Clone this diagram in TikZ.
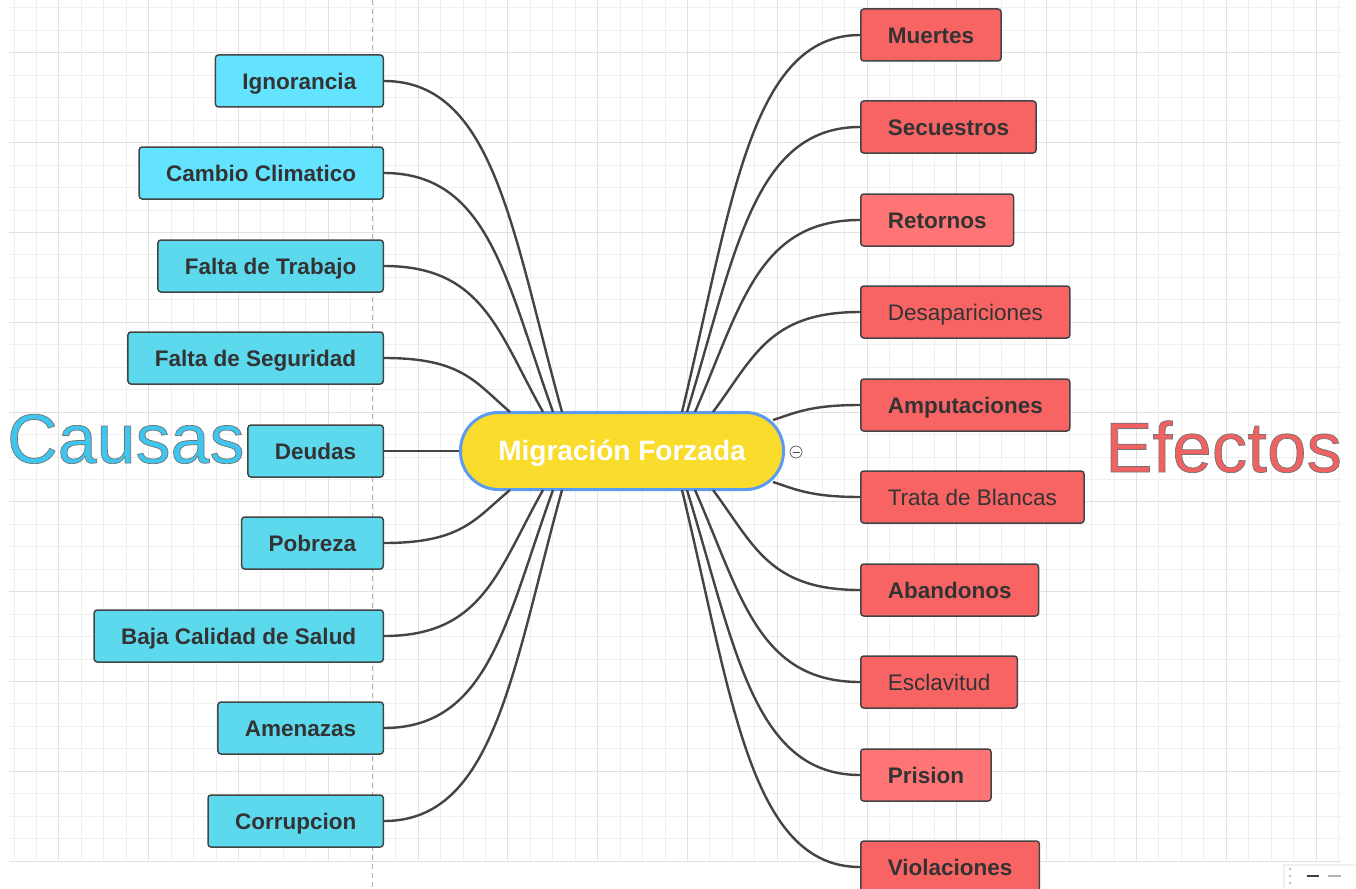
\documentclass[tikz,border=0pt]{standalone}
\usepackage{fontspec}
\setmainfont{Liberation Sans}
\usetikzlibrary{positioning}

\definecolor{gridminor}{HTML}{EFEFEF}
\definecolor{gridmajor}{HTML}{E1E1E1}
\definecolor{causebright}{HTML}{64E3FF}
\definecolor{causefill}{HTML}{5DD9EE}
\definecolor{effectfill}{HTML}{F86464}
\definecolor{effectlight}{HTML}{FF7575}
\definecolor{centerfill}{HTML}{F9DC2C}
\definecolor{centerline}{HTML}{5B9CF2}
\definecolor{linkgray}{HTML}{444444}
\definecolor{textgray}{HTML}{333333}
\definecolor{causetitle}{HTML}{3EC6EE}
\definecolor{effecttitle}{HTML}{F06262}

% outlined title text
\newcommand{\outlined}[1]{\special{pdf:literal 2 Tr 0.7 w 0.45 0.45 0.45 RG}#1\special{pdf:literal 0 Tr}}

\tikzset{
  topic/.style={draw=linkgray, line width=1.5pt, rounded corners=3pt,
    minimum height=52pt, inner xsep=27pt, text height=21pt, text depth=4.4pt,
    font=\fontsize{22.5}{27}\selectfont\bfseries, text=textgray},
  plain/.style={font=\fontsize{22.5}{27}\selectfont},
  cause/.style={topic, fill=causefill, anchor=east},
  effect/.style={topic, fill=effectfill, anchor=west},
  link/.style={draw=linkgray, line width=2.4pt},
}

\begin{document}
\begin{tikzpicture}[x=1pt, y=-1pt]
  \useasboundingbox (0,0) rectangle (1356,888);
  \fill[white] (0,0) rectangle (1356,888);

  % grid
  \foreach \k in {0,...,59}
    \draw[gridminor, line width=1pt] ({14+22.45*\k},0) -- ({14+22.45*\k},860);
  \foreach \k in {0,...,38}
    \draw[gridminor, line width=1pt] (9,{8+22.45*\k}) -- (1341,{8+22.45*\k});
  \foreach \k in {2,6,...,58}
    \draw[gridmajor, line width=1pt] ({14+22.45*\k},0) -- ({14+22.45*\k},860);
  \foreach \k in {2,6,...,38}
    \draw[gridmajor, line width=1pt] (9,{8+22.45*\k}) -- (1341,{8+22.45*\k});
  \draw[black!30, line width=0.8pt, dash pattern=on 5pt off 4pt] (372.5,0) -- (372.5,888);

  % titles
  \node[anchor=base west, inner sep=0, font=\fontsize{70}{72}\selectfont, text=causetitle] (causas) at (7,463) {\outlined{Causas}};
  \node[anchor=base west, inner sep=0, font=\fontsize{71}{73}\selectfont, text=effecttitle] (efectos) at (1105,472) {\outlined{Efectos}};

  % center
  \node[draw=centerline, line width=3pt, fill=centerfill, rounded corners=38pt,
    minimum width=323pt, minimum height=77pt, text height=25pt, text depth=7pt,
    font=\fontsize{28}{30}\selectfont\bfseries, text=white] (mf) at (622,451) {Migración Forzada};
  \node[circle, draw=black!60, fill=white, line width=0.8pt, minimum size=12pt, inner sep=0] (fold) at (796,452) {};
  \draw[black!70, line width=0.9pt] ([xshift=-3.5pt]fold.center) -- ([xshift=3.5pt]fold.center);

  % causes
  \node[cause, fill=causebright] (ign) at (384,81) {Ignorancia};
  \node[cause, fill=causebright] (cambio) at (384,173) {Cambio Climatico};
  \node[cause] (trabajo) at (384,266) {Falta de Trabajo};
  \node[cause] (seguridad) at (384,358) {Falta de Seguridad};
  \node[cause] (deudas) at (384,451) {Deudas};
  \node[cause] (pobreza) at (384,543) {Pobreza};
  \node[cause] (salud) at (384,636) {Baja Calidad de Salud};
  \node[cause] (amenazas) at (384,728) {Amenazas};
  \node[cause] (corrupcion) at (384,821) {Corrupcion};

  % effects
  \node[effect] (muertes) at (860,35) {Muertes};
  \node[effect] (secuestros) at (860,127) {Secuestros};
  \node[effect, fill=effectlight] (retornos) at (860,220) {Retornos};
  \node[effect, plain] (desap) at (860,312) {Desapariciones};
  \node[effect] (amput) at (860,405) {Amputaciones};
  \node[effect, plain] (trata) at (860,497) {Trata de Blancas};
  \node[effect] (abandonos) at (860,590) {Abandonos};
  \node[effect, plain] (esclav) at (860,682) {Esclavitud};
  \node[effect, fill=effectlight] (prision) at (860,775) {Prision};
  \node[effect] (violac) at (860,867) {Violaciones};

  % ends on the center border
  \coordinate (l1) at (562,412);
  \coordinate (l2) at (553,412);
  \coordinate (l3) at (543,412);
  \coordinate (l4) at (510,412);
  \coordinate (l6) at (510,490);
  \coordinate (l7) at (543,490);
  \coordinate (l8) at (553,490);
  \coordinate (l9) at (562,490);
  \coordinate (r1) at (682,412);
  \coordinate (r2) at (687,412);
  \coordinate (r3) at (695,412);
  \coordinate (r4) at (713,412);
  \coordinate (r5) at (773,420);
  \coordinate (r6) at (773,482);
  \coordinate (r7) at (713,490);
  \coordinate (r8) at (695,490);
  \coordinate (r9) at (687,490);
  \coordinate (r10) at (682,490);

  % links
  \draw[link] (ign.east) .. controls +(110,0) and +(-50,-181) .. (l1);
  \draw[link] (cambio.east) .. controls +(105,0) and +(-47,-131) .. (l2);
  \draw[link] (trabajo.east) .. controls +(99,0) and +(-45,-80) .. (l3);
  \draw[link] (seguridad.east) .. controls +(78,0) and +(-35,-30) .. (l4);
  \draw[link] (deudas.east) -- (mf.west);
  \draw[link] (pobreza.east) .. controls +(78,0) and +(-35,29) .. (l6);
  \draw[link] (salud.east) .. controls +(99,0) and +(-45,80) .. (l7);
  \draw[link] (amenazas.east) .. controls +(105,0) and +(-47,130) .. (l8);
  \draw[link] (corrupcion.east) .. controls +(110,0) and +(-50,182) .. (l9);

  \draw[link] (muertes.west) .. controls +(-110,0) and +(50,-207) .. (r1);
  \draw[link] (secuestros.west) .. controls +(-107,0) and +(48,-157) .. (r2);
  \draw[link] (retornos.west) .. controls +(-102,0) and +(46,-106) .. (r3);
  \draw[link] (desap.west) .. controls +(-91,0) and +(41,-55) .. (r4);
  \draw[link] (amput.west) .. controls +(-50,0) and +(22,-7) .. (r5);
  \draw[link] (trata.west) .. controls +(-50,0) and +(22,7) .. (r6);
  \draw[link] (abandonos.west) .. controls +(-91,0) and +(41,55) .. (r7);
  \draw[link] (esclav.west) .. controls +(-102,0) and +(46,105) .. (r8);
  \draw[link] (prision.west) .. controls +(-107,0) and +(48,156) .. (r9);
  \draw[link] (violac.west) .. controls +(-110,0) and +(50,207) .. (r10);

  % zoom widget
  \fill[black!6] (1283,864) rectangle (1356,888);
  \fill[white] (1285,866) rectangle (1356,888);
  \foreach \y in {869,876,883}
    \fill[black!25] (1290,\y) circle (1.3pt);
  \draw[black!75, line width=2pt] (1307,876) -- (1319,876);
  \draw[black!30, line width=2pt] (1328,876) -- (1341,876);
\end{tikzpicture}
\end{document}
